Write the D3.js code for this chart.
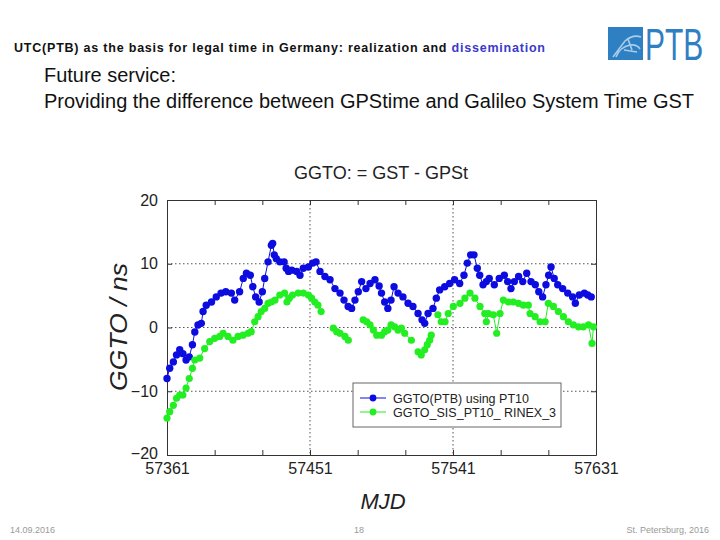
<!DOCTYPE html>
<html><head><meta charset="utf-8">
<script src="https://cdn.jsdelivr.net/npm/d3@7"></script>
<style>body{margin:0;background:#fff}svg{display:block}text{font-family:"Liberation Sans",Arial,sans-serif}</style>
</head><body>
<svg id="c" width="720" height="540"></svg>
<script>
// ---- data ----
const xTickLabels = [57361, 57451, 57541, 57631];
const xMinorTicks = [57361, 57391, 57421, 57451, 57481, 57511, 57541, 57571, 57601, 57631];
const yTickLabels = [-20, -10, 0, 10, 20];
const seriesNames = ["GGTO(PTB) using PT10", "GGTO_SIS_PT10_ RINEX_3"];

const blueMJD = [57361,57362.7,57365,57367,57369,57371,57373,57375,57377,57378.5,57380.5,57382.6,57383.7,57385.7,57389,57392,57395,57398,57401.5,57403.6,57406.7,57409,57411,57413.4,57415,57416.8,57419,57421,57422.5,57424.6,57426.7,57427.5,57428.5,57429.8,57432,57434.7,57436,57437.5,57439.5,57442.6,57444.7,57446.8,57450,57452.7,57454.8,57457.3,57460.4,57463.6,57466.7,57469.9,57472.4,57475,57477.2,57479.3,57481.4,57483.5,57486.2,57488.8,57491.9,57494.5,57496,57498,57500,57502,57503.9,57506.4,57509.5,57512.7,57515.8,57519,57521.5,57523.2,57525.3,57528.4,57530.5,57532.6,57535.8,57538.9,57542,57545.2,57547.9,57550,57552.1,57554.2,57556.3,57557.8,57559.9,57562,57563.8,57567,57570.1,57573.3,57575.4,57577.5,57579.6,57582.3,57584.9,57587.4,57590.1,57592.8,57595,57597.4,57599.5,57601.2,57602.7,57604.7,57606.9,57610,57613.2,57616.3,57618,57620.5,57623.7,57625.8,57628];
const blueVal = [-8.0,-6.4,-5.4,-4.3,-3.5,-4.1,-5.1,-4.6,-2.7,-0.7,0.4,0.65,2.5,3.5,4.0,4.8,5.4,5.6,5.4,4.3,5.6,7.7,8.5,8.2,6.4,4.8,4.0,5.6,7.7,10.3,12.9,13.2,11.4,10.8,10.3,10.3,9.3,8.8,9.0,8.8,8.2,9.3,9.5,10.1,10.3,8.8,8.0,7.5,6.1,5.4,4.3,3.3,3.0,4.3,5.6,7.2,6.1,6.9,7.5,6.5,5.4,4.0,3.0,4.3,6.4,5.4,4.8,3.8,3.3,2.2,1.2,0.65,2.2,3.0,4.6,5.9,6.4,6.9,7.5,6.9,8.2,10.1,11.4,11.4,9.3,8.2,6.7,7.2,7.7,6.7,7.7,8.2,7.2,6.1,7.2,8.0,7.2,8.5,7.2,6.7,5.6,4.8,6.7,8.2,9.5,7.7,6.7,6.1,5.4,4.8,3.8,5.1,5.4,5.1,4.8];

// null marks a gap in the green record
const greenMJD = [57361,57362.7,57365,57367,57369,57371,57373,57375,57377,57378.5,57381.6,57384.7,57387.9,57391,57394.2,57396.3,57399.4,57402.5,57405.7,57408.8,57412,57414,57416.2,57418.3,57420.3,57422.5,57424.6,57426.7,57429,57432,57435,57436.5,57438,57440,57443.6,57446.8,57450,57452,57454,57456,57458,57462,57465.7,57467.8,57469.9,57473,57475.1,57480,57484.5,57486.7,57488.8,57490.9,57493,57496,57498,57500,57502,57504.3,57506.4,57508.5,57510.6,57514.8,57517,57519,57521,57523.2,57524.8,57526.3,57527.3,57529.5,57531.5,57533.6,57536,57538,57541.2,57545.4,57548.5,57551.7,57554.8,57558,57561,57562,57563.3,57566.4,57568.5,57570.6,57572.7,57575.9,57579,57582.2,57585.3,57588.4,57589.5,57592.7,57595.8,57599,57601,57604.2,57607.3,57610.5,57613.6,57616.8,57620,57623,57626.3,57628.5,57629.4];
const greenVal = [-14.2,-13.2,-12.2,-11.1,-10.6,-10.6,-9.5,-8.0,-6.4,-5.1,-4.8,-3.3,-2.2,-1.7,-1.4,-0.9,-1.4,-2.0,-1.4,-1.2,-0.9,-0.65,0.9,1.7,2.5,3.0,3.8,4.0,4.3,5.1,5.4,4.0,4.6,5.1,5.4,5.4,5.1,4.6,4.0,3.5,2.5,null,-0.1,-0.65,-0.9,-1.4,-2.0,null,1.2,0.9,0.4,-0.4,-1.2,-1.2,-0.65,-0.4,0.4,0.1,-0.4,-0.1,-0.9,-2.0,null,-3.8,-4.3,-3.5,-2.7,-2.0,-1.2,null,2.0,0.9,0.9,2.2,3.3,3.8,4.6,5.4,4.6,3.3,2.2,0.9,2.2,2.0,-0.9,2.2,4.3,4.0,4.0,3.8,3.5,3.5,2.2,1.7,0.9,0.9,3.8,3.3,2.5,1.7,0.9,0.4,0.1,0.1,0.4,-2.5,0.1];

const blueColor = "#0c0ce0", greenColor = "#22ee22";

const svg = d3.select("#c");
const x = d3.scaleLinear().domain([57361, 57631]).range([167, 596]);
const y = d3.scaleLinear().domain([-20, 20]).range([455, 200]);

// header
const h = svg.append("text").attr("x", 14).attr("y", 52).attr("font-size", 12.5).attr("font-weight", "bold")
  .attr("textLength", 531).attr("lengthAdjust", "spacing").attr("fill", "#111");
h.append("tspan").text("UTC(PTB) as the basis for legal time in Germany: realization and ");
h.append("tspan").attr("fill", "#3a3acc").text("dissemination");

// logo
const logo = svg.append("g");
logo.append("rect").attr("x", 608).attr("y", 27).attr("width", 35).attr("height", 33).attr("fill", "#2f80c3");
logo.append("path").attr("d", "M613,57 L625,41 Q633,34 641,37 M616,57 Q620,47 630,45 Q637,44 640,49 M624,50 L637,52 M628,39 L632,50")
  .attr("stroke", "#a8cdea").attr("stroke-width", 1.6).attr("fill", "none");
logo.append("text").attr("transform", "translate(645,60) scale(1.1,1.36)").attr("font-size", 33).attr("fill", "#2f80c3")
  .attr("font-family", "'Liberation Sans Narrow','Liberation Sans',sans-serif")
  .attr("textLength", 53).attr("lengthAdjust", "spacingAndGlyphs").text("PTB");

svg.append("text").attr("x", 44).attr("y", 82).attr("font-size", 19.5).attr("fill", "#111")
  .attr("textLength", 132).attr("lengthAdjust", "spacingAndGlyphs").text("Future service:");
svg.append("text").attr("x", 44).attr("y", 108).attr("font-size", 19.5).attr("fill", "#111")
  .attr("textLength", 650).attr("lengthAdjust", "spacingAndGlyphs")
  .text("Providing the difference between GPStime and Galileo System Time GST");

// chart title
svg.append("text").attr("x", 381).attr("y", 179).attr("text-anchor", "middle").attr("font-size", 18).attr("fill", "#222")
  .text("GGTO: = GST - GPSt");

// grid (dotted)
const grid = svg.append("g").attr("stroke", "#555").attr("stroke-width", 1).attr("stroke-dasharray", "1.5,2.5");
grid.selectAll("line.gx").data(xTickLabels.slice(1, -1)).join("line")
  .attr("x1", d => x(d)).attr("x2", d => x(d)).attr("y1", y(20)).attr("y2", y(-20));
grid.selectAll("line.gy").data(yTickLabels.slice(1, -1)).join("line").attr("class", "gy")
  .attr("x1", x(57361)).attr("x2", x(57631)).attr("y1", d => y(d)).attr("y2", d => y(d));

// axes: inward ticks on all sides
const tickLen = 5;
function styleAxis(g) { g.select(".domain").attr("stroke", "#333"); g.selectAll(".tick line").attr("stroke", "#333"); }
svg.append("g").attr("transform", `translate(0,${y(-20)})`)
  .call(d3.axisBottom(x).tickValues(xMinorTicks).tickSizeInner(-tickLen).tickSizeOuter(0).tickFormat(""))
  .call(styleAxis);
svg.append("g").attr("transform", `translate(0,${y(20)})`)
  .call(d3.axisTop(x).tickValues(xMinorTicks).tickSizeInner(-tickLen).tickSizeOuter(0).tickFormat(""))
  .call(styleAxis);
svg.append("g").attr("transform", `translate(${x(57361)},0)`)
  .call(d3.axisLeft(y).tickValues(yTickLabels).tickSizeInner(-tickLen).tickSizeOuter(0).tickFormat(""))
  .call(styleAxis);
svg.append("g").attr("transform", `translate(${x(57631)},0)`)
  .call(d3.axisRight(y).tickValues(yTickLabels).tickSizeInner(-tickLen).tickSizeOuter(0).tickFormat(""))
  .call(styleAxis);

// tick labels
const xl = svg.append("g").attr("transform", `translate(0,${y(-20)})`)
  .call(d3.axisBottom(x).tickValues(xTickLabels).tickSize(0).tickPadding(8).tickFormat(d3.format("d")));
xl.select(".domain").remove();
xl.selectAll("text").attr("font-size", 16).attr("fill", "#222").attr("font-family", "'Liberation Sans',Arial,sans-serif");
const yl = svg.append("g").attr("transform", `translate(${x(57361)},0)`)
  .call(d3.axisLeft(y).tickValues(yTickLabels).tickSize(0).tickPadding(9).tickFormat(d3.format("d")));
yl.select(".domain").remove();
yl.selectAll("text").attr("font-size", 16).attr("fill", "#222").attr("font-family", "'Liberation Sans',Arial,sans-serif");
yl.selectAll(".tick").filter(d => d === -20).select("text").attr("dy", "0.2em");

// axis titles
svg.append("text").attr("transform", "translate(127,327) rotate(-90)").attr("text-anchor", "middle")
  .attr("font-size", 24).attr("font-style", "italic").attr("fill", "#222")
  .attr("textLength", 128).attr("lengthAdjust", "spacingAndGlyphs").text("GGTO / ns");
svg.append("text").attr("x", 383).attr("y", 509).attr("text-anchor", "middle")
  .attr("font-size", 22).attr("font-style", "italic").attr("fill", "#222").text("MJD");

// series
const blue = blueMJD.map((m, i) => ({ m, v: blueVal[i] }));
const green = greenMJD.map((m, i) => ({ m, v: greenVal[i] }));
const line = d3.line().defined(d => d.v !== null).x(d => x(d.m)).y(d => y(d.v));

svg.append("path").datum(blue).attr("d", line).attr("fill", "none").attr("stroke", blueColor).attr("stroke-width", 1);
svg.append("g").selectAll("circle").data(blue).join("circle")
  .attr("cx", d => x(d.m)).attr("cy", d => y(d.v)).attr("r", 3.7).attr("fill", blueColor);

svg.append("path").datum(green).attr("d", line).attr("fill", "none").attr("stroke", greenColor).attr("stroke-width", 1);
svg.append("g").selectAll("circle").data(green.filter(d => d.v !== null)).join("circle")
  .attr("cx", d => x(d.m)).attr("cy", d => y(d.v)).attr("r", 3.6).attr("fill", greenColor);

// legend
const lg = svg.append("g");
lg.append("rect").attr("x", 353).attr("y", 383).attr("width", 208).attr("height", 44)
  .attr("fill", "#fff").attr("stroke", "#666").attr("stroke-width", 1);
const colors = [blueColor, greenColor];
seriesNames.forEach((name, i) => {
  const yy = 398 + i * 14;
  lg.append("line").attr("x1", 360).attr("x2", 386).attr("y1", yy).attr("y2", yy).attr("stroke", colors[i]).attr("stroke-width", 1);
  lg.append("circle").attr("cx", 373).attr("cy", yy).attr("r", 3.4).attr("fill", colors[i]);
  lg.append("text").attr("x", 393).attr("y", yy + 4.5).attr("font-size", 12.5).attr("fill", "#222").text(name);
});

// footer
svg.append("text").attr("x", 10).attr("y", 533).attr("font-size", 9).attr("fill", "#999").text("14.09.2016");
svg.append("text").attr("x", 359).attr("y", 533).attr("text-anchor", "middle").attr("font-size", 9).attr("fill", "#999").text("18");
svg.append("text").attr("x", 709).attr("y", 533).attr("text-anchor", "end").attr("font-size", 9).attr("fill", "#999").text("St. Petersburg, 2016");
</script>
</body></html>
